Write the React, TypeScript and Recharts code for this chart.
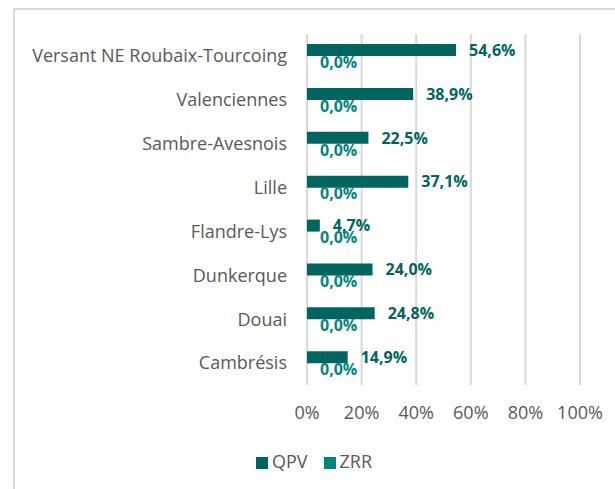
import { Bar, BarChart, CartesianGrid, LabelList, Legend, XAxis, YAxis } from "recharts";

const territories = [
  "Versant NE Roubaix-Tourcoing",
  "Valenciennes",
  "Sambre-Avesnois",
  "Lille",
  "Flandre-Lys",
  "Dunkerque",
  "Douai",
  "Cambrésis",
];
const qpv = [54.6, 38.9, 22.5, 37.1, 4.7, 24.0, 24.8, 14.9];
const zrr = [0, 0, 0, 0, 0, 0, 0, 0];
const xTicks = [0, 20, 40, 60, 80, 100];

const data = territories.map((name, i) => ({ name, QPV: qpv[i], ZRR: zrr[i] }));

const fmt = (v: number) => `${Number(v).toFixed(1).replace(".", ",")}%`;
const font = "'Open Sans', sans-serif";

export default function App() {
  return (
    <div
      style={{
        position: "absolute",
        left: 0,
        top: 0,
        width: 615,
        height: 489,
        background: "#fff",
        overflow: "hidden",
        fontFamily: font,
      }}
    >
      <div
        style={{
          position: "absolute",
          left: 13,
          top: 8,
          width: 700,
          height: 600,
          border: "2px solid #d9d9d9",
        }}
      />
      <div style={{ position: "absolute", left: 0, top: 0 }}>
        <BarChart
          width={615}
          height={489}
          data={data}
          layout="vertical"
          margin={{ top: 34, right: 35, left: 0, bottom: 30 }}
          barCategoryGap="23%"
          barGap={0}
        >
          <CartesianGrid horizontal={false} stroke="#d9d9d9" strokeWidth={2} />
          <XAxis
            type="number"
            domain={[0, 100]}
            ticks={xTicks}
            tickFormatter={(v) => `${v}%`}
            axisLine={false}
            tickLine={false}
            tickSize={0}
            tickMargin={21}
            height={50}
            tick={{ fontSize: 18, fill: "#595959", fontFamily: font }}
          />
          <YAxis
            type="category"
            dataKey="name"
            width={307}
            axisLine={false}
            tickLine={false}
            tickSize={0}
            tickMargin={20}
            tick={{ fontSize: 18, fill: "#595959", fontFamily: font }}
          />
          <Legend
            verticalAlign="bottom"
            align="center"
            iconType="square"
            iconSize={12}
            wrapperStyle={{ fontSize: 18, color: "#595959", fontFamily: font, bottom: 16, left: 29 }}
            formatter={(v) => (
              <span style={{ color: "#595959", marginRight: v === "QPV" ? 6 : 0 }}>{v}</span>
            )}
          />
          <Bar dataKey="QPV" fill="#00645f" isAnimationActive={false}>
            <LabelList
              dataKey="QPV"
              position="right"
              offset={13}
              formatter={(v: number) => fmt(v)}
              style={{ fill: "#00645f", fontWeight: 700, fontSize: 16, fontFamily: font }}
            />
          </Bar>
          <Bar dataKey="ZRR" fill="#00857f" minPointSize={0.01} isAnimationActive={false}>
            <LabelList
              dataKey="ZRR"
              position="right"
              offset={13}
              formatter={(v: number) => fmt(v)}
              style={{ fill: "#00857f", fontWeight: 700, fontSize: 16, fontFamily: font }}
            />
          </Bar>
        </BarChart>
      </div>
    </div>
  );
}
